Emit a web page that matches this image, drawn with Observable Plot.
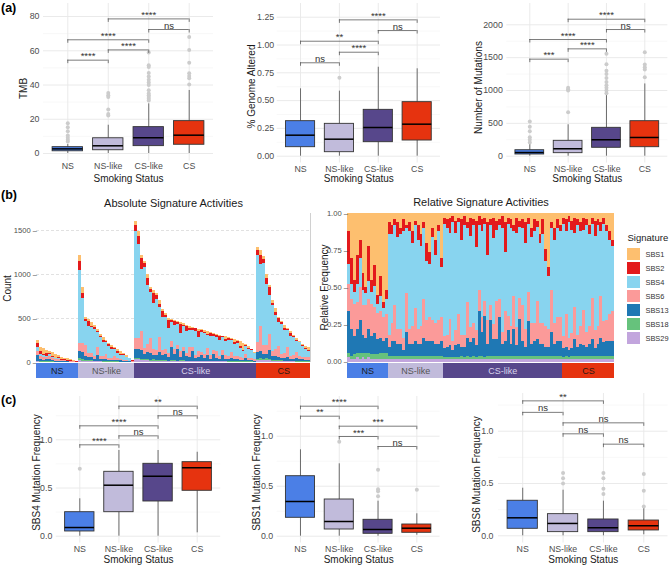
<!DOCTYPE html>
<html><head><meta charset="utf-8">
<script src="https://cdn.jsdelivr.net/npm/d3@7"></script>
<script src="https://cdn.jsdelivr.net/npm/@observablehq/plot@0.6"></script>
<style>
html,body{margin:0;padding:0;background:#fff;}
#fig{position:relative;width:669px;height:566px;overflow:hidden;background:#fff;font-family:"Liberation Sans",Arial,Helvetica,sans-serif;}
#fig > svg{position:absolute;left:0;top:0;}
.tag{position:absolute;font-weight:bold;font-size:12.5px;color:#000;line-height:1;}
</style></head><body><div id="fig"></div>
<script>
const W = 669, H = 566;
const groups = ["NS", "NS-like", "CS-like", "CS"];
const groupColors = ["#4b7fe6", "#c1bbdb", "#57478b", "#e6330f"];
const stripTextColors = ["#1c1c1c", "#555555", "#d9d3ec", "#2a1a14"];

// ---- (a) TMB
const tmbQ1 = [1.3, 1.9, 4.3, 5.1];
const tmbMed = [2.7, 4.5, 9.2, 10.7];
const tmbQ3 = [3.7, 8.9, 15.4, 18.9];
const tmbLo = [0, 0, 0, 0];
const tmbHi = [5.3, 16.5, 29, 36.8];
const tmbOut = [[7, 8, 9.2, 10.5, 13, 15.4, 17.7], [22.2, 23, 25.7, 33, 34, 35.4], [31, 32, 33, 34, 35, 37, 40, 41.5, 43, 45, 47, 50.5, 51.5, 59], [40.3, 44, 45.3, 46.9, 53, 60.5, 68]];
const tmbBrackets = [["NS", "NS-like", 54.5, "****"], ["NS-like", "CS-like", 60.5, "****"], ["NS", "CS-like", 66.4, "****"], ["CS-like", "CS", 72.4, "ns"], ["NS-like", "CS", 78.6, "****"]];
const tmbTicks = [0, 20, 40, 60, 80];
const tmbMinor = [10, 30, 50, 70];

// ---- (a) % Genome Altered
const gaQ1 = [0.081, 0.036, 0.126, 0.141];
const gaMed = [0.189, 0.153, 0.258, 0.288];
const gaQ3 = [0.315, 0.291, 0.417, 0.486];
const gaLo = [0, 0, 0, 0];
const gaHi = [0.606, 0.585, 0.80, 0.786];
const gaOut = [[], [0.705], [], []];
const gaBrackets = [["NS", "NS-like", 0.84, "ns"], ["NS-like", "CS-like", 0.935, "****"], ["NS", "CS-like", 1.034, "**"], ["CS-like", "CS", 1.13, "ns"], ["NS-like", "CS", 1.226, "****"]];
const gaTicks = [0, 0.25, 0.5, 0.75, 1, 1.25];
const gaMinor = [0.125, 0.375, 0.625, 0.875, 1.125];

// ---- (a) Number of Mutations
const nmQ1 = [26, 46, 128, 137];
const nmMed = [56, 113, 250, 285];
const nmQ3 = [91, 234, 432, 533];
const nmLo = [0, 0, 0, 0];
const nmHi = [178, 478, 940, 1100];
const nmOut = [[210, 250, 290, 380, 450, 530], [670, 1000, 1020, 1040], [960, 1000, 1040, 1080, 1130, 1190, 1250, 1300, 1400, 1560], [1200, 1320, 1355, 1396, 1583]];
const nmBrackets = [["NS", "NS-like", 1477, "***"], ["NS-like", "CS-like", 1634, "****"], ["NS", "CS-like", 1776, "****"], ["CS-like", "CS", 1928, "ns"], ["NS-like", "CS", 2085, "****"]];
const nmTicks = [0, 500, 1000, 1500, 2000];
const nmMinor = [250, 750, 1250, 1750];

// ---- (c) SBS4
const s4Q1 = [0.049, 0.249, 0.36, 0.471];
const s4Med = [0.09, 0.529, 0.622, 0.71];
const s4Q3 = [0.249, 0.668, 0.751, 0.768];
const s4Lo = [0, 0, 0, 0.035];
const s4Hi = [0.388, 0.889, 0.889, 0.871];
const s4Out = [[0.70], [], [], []];
const s4Brackets = [["NS", "NS-like", 0.948, "****"], ["NS-like", "CS-like", 1.041, "ns"], ["NS", "CS-like", 1.145, "****"], ["CS-like", "CS", 1.249, "ns"], ["NS-like", "CS", 1.349, "**"]];

// ---- (c) SBS1
const s1Q1 = [0.184, 0.067, 0.024, 0.034];
const s1Med = [0.347, 0.147, 0.067, 0.08];
const s1Q3 = [0.60, 0.367, 0.164, 0.117];
const s1Lo = [0, 0, 0, 0.01];
const s1Hi = [0.864, 0.724, 0.35, 0.224];
const s1Out = [[], [0.944], [0.40, 0.45, 0.47, 0.665], [0.464]];
const s1Brackets = [["NS", "CS-like", 1.30, "****"], ["NS", "NS-like", 1.20, "**"], ["NS-like", "CS", 1.10, "***"], ["NS-like", "CS-like", 0.997, "***"], ["CS-like", "CS", 0.897, "ns"]];

// ---- (c) SBS6
const s6Q1 = [0.067, 0.035, 0.035, 0.051];
const s6Med = [0.172, 0.118, 0.077, 0.096];
const s6Q3 = [0.335, 0.207, 0.156, 0.146];
const s6Lo = [0, 0, 0, 0.01];
const s6Hi = [0.455, 0.436, 0.331, 0.264];
const s6Out = [[], [0.50, 0.55, 0.60], [0.40, 0.45, 0.55, 0.60], [0.28, 0.43, 0.59]];
const s6Brackets = [["NS", "CS-like", 1.29, "**"], ["NS", "NS-like", 1.18, "ns"], ["NS-like", "CS", 1.08, "ns"], ["NS-like", "CS-like", 0.975, "ns"], ["CS-like", "CS", 0.876, "ns"]];
const freqTicks = [0, 0.5, 1.0];
const freqMinor = [0.25, 0.75, 1.25];

// ---- (b) signatures
const signatures = ["SBS1", "SBS2", "SBS4", "SBS6", "SBS13", "SBS18", "SBS29"];
const sigColors = ["#fdbf6f", "#e31a1c", "#88d4ef", "#fb9a99", "#1f78b4", "#66c27c", "#c2a5dd"];
const stackOrder = signatures.slice().reverse();
const absTicks = [0, 500, 1000, 1500];
const relTicks = [0, 0.25, 0.5, 0.75, 1];

const nsTotals = [250, 175, 160, 140, 125, 110, 90, 75, 60, 50, 40, 30, 20, 12];
const nsLikeTotals = [1220, 850, 510, 490, 460, 420, 380, 320, 280, 250, 220, 195, 170, 150, 125, 100, 75, 50, 25];
const csLikeTotals = [1600, 1490, 1220, 1150, 1000, 850, 820, 780, 700, 600, 560, 500, 490, 480, 470, 455, 440, 425, 410, 400, 390, 380, 370, 360, 350, 340, 330, 320, 310, 300, 290, 280, 270, 260, 250, 235, 220, 200, 180, 150, 110];
const csTotals = [1310, 1270, 1200, 1000, 875, 700, 610, 515, 470, 420, 385, 350, 310, 270, 240, 210, 185, 165];

// composition per sample: SBS1, SBS2, SBS4, SBS6, SBS13, SBS18, SBS29 (%)
const nsComp = [
[12,22,14,18,28,3,3],[30,18,10,20,18,2,2],[45,8,8,22,12,3,2],[28,20,12,18,16,3,3],[18,12,20,22,22,4,2],
[40,12,10,20,12,3,3],[50,4,8,22,10,4,2],[22,24,12,20,16,3,3],[45,8,8,22,12,3,2],[35,14,14,18,14,3,2],
[55,6,6,18,10,3,2],[42,14,10,18,10,4,2],[60,4,6,16,8,4,2],[52,6,10,16,10,4,2]];
const nsLikeComp = [
[6,8,68,8,6,2,2],[8,6,60,12,10,2,2],[4,4,54,24,10,2,2],[6,10,62,10,8,2,2],[10,4,64,10,8,2,2],
[4,8,72,8,4,2,2],[8,2,44,26,16,2,2],[6,6,66,10,8,2,2],[12,8,56,12,8,2,2],[5,3,56,22,10,2,2],
[8,10,60,10,8,2,2],[14,8,54,12,8,2,2],[6,4,48,26,12,2,2],[20,12,40,14,10,2,2],[26,8,36,16,10,2,2],
[10,6,56,14,10,2,2],[18,10,46,14,8,2,2],[8,4,60,16,8,2,2],[30,6,34,16,10,2,2]];
const csLikeComp = [
[3,4,76,8,6,1,2],[4,6,72,8,7,1,2],[3,10,58,18,8,1,2],[2,4,80,6,5,1,2],[5,8,66,10,8,1,2],
[3,3,62,20,9,1,2],[4,14,64,8,6,2,2],[2,6,74,8,7,1,2],[6,4,50,24,12,2,2],[3,12,62,10,10,1,2],
[4,4,66,10,12,2,2],[5,18,56,10,8,1,2],[2,6,44,14,30,2,2],[4,8,58,10,16,2,2],[3,4,52,10,28,1,2],
[6,22,44,16,8,2,2],[4,4,54,10,24,2,2],[3,14,58,10,11,2,2],[5,6,48,26,11,2,2],[4,4,50,12,26,2,2],
[2,8,70,8,8,2,2],[6,20,40,20,10,2,2],[3,4,62,10,17,2,2],[4,6,66,12,8,2,2],[8,4,44,22,18,2,2],
[3,10,64,12,7,2,2],[5,4,48,14,25,2,2],[4,6,52,24,10,2,2],[6,14,58,12,6,2,2],[3,4,46,20,23,2,2],
[10,6,58,14,8,2,2],[4,8,62,12,10,2,2],[5,4,50,26,11,2,2],[14,6,54,14,8,2,2],[4,10,60,14,8,2,2],
[24,8,44,14,6,2,2],[36,6,36,12,6,2,2],[6,4,42,28,16,2,2],[10,8,56,14,8,2,2],[4,6,60,16,10,2,2],
[8,4,58,16,10,2,2]];
const csComp = [
[3,4,76,8,6,1,2],[4,8,56,22,6,2,2],[2,4,78,8,5,1,2],[5,6,70,10,5,2,2],[3,10,50,22,11,2,2],
[4,4,74,8,6,2,2],[6,6,64,12,8,2,2],[3,8,54,24,7,2,2],[4,4,72,10,6,2,2],[8,6,62,12,8,2,2],
[3,4,50,28,11,2,2],[5,10,64,12,5,2,2],[4,4,68,12,8,2,2],[6,6,44,28,12,2,2],[3,4,66,14,9,2,2],
[8,4,60,14,10,2,2],[12,6,50,18,10,2,2],[18,4,44,20,10,2,2]];

// ================= helpers =================
const FONT = '"Liberation Sans", Arial, Helvetica, sans-serif';
function baseStyle(size) {
  return {background: "transparent", fontFamily: FONT, fontSize: size + "px", color: "#4d4d4d", overflow: "visible"};
}
function frame(l, r, t, b) {
  return {width: W, height: H, marginLeft: l, marginRight: W - r, marginTop: t, marginBottom: H - b};
}
const fig = document.getElementById("fig");

function boxPanel(d, L) {
  const yLo = (L.y0 - L.bottom) / L.ppu, yHi = (L.y0 - L.top) / L.ppu;
  const pos = groups.map((g, i) => i + 1);
  const boxes = groups.map((g, i) => ({pos: i + 1, group: g, q1: d.q1[i], med: d.med[i], q3: d.q3[i], lo: d.lo[i], hi: d.hi[i]}));
  const outs = d.out.flatMap((vals, i) => vals.map(v => ({pos: i + 1, v})));
  const tick = 3.5 / L.ppu;
  const br = d.br.map(([a, b, y, label]) => {
    const p1 = groups.indexOf(a) + 1, p2 = groups.indexOf(b) + 1;
    return {p1, p2, pm: (p1 + p2) / 2, y, y0: y - tick, label};
  });
  const half = 0.375;
  return Plot.plot({
    ...frame(L.left, L.right, L.top, L.bottom),
    style: baseStyle(L.tickFont),
    x: {type: "linear", axis: "bottom", domain: [0.4, 4.6], ticks: pos, tickFormat: p => groups[p - 1], tickSize: 0, tickPadding: L.xPad, label: null},
    y: {axis: "left", domain: [yLo, yHi], ticks: d.ticks, tickFormat: d.fmt, tickSize: 0, tickPadding: L.yPad, label: null},
    color: {domain: groups, range: groupColors},
    marks: [
      Plot.ruleY(d.minor, {stroke: "#f3f3f3", strokeWidth: 0.6}),
      Plot.ruleY(d.ticks, {stroke: "#e8e8e8", strokeWidth: 0.9}),
      Plot.ruleX(pos, {stroke: "#e8e8e8", strokeWidth: 0.9}),
      Plot.ruleX(boxes, {x: "pos", y1: "lo", y2: "q1", stroke: "#4a4a4a", strokeWidth: 0.8}),
      Plot.ruleX(boxes, {x: "pos", y1: "q3", y2: "hi", stroke: "#4a4a4a", strokeWidth: 0.8}),
      Plot.rectY(boxes, {x1: b => b.pos - half, x2: b => b.pos + half, y1: "q1", y2: "q3", fill: "group", stroke: "#333", strokeWidth: 0.9}),
      Plot.ruleY(boxes, {x1: b => b.pos - half, x2: b => b.pos + half, y: "med", stroke: "#000", strokeWidth: 1.5}),
      Plot.dot(outs, {x: "pos", y: "v", r: 2, fill: "#cccccc", stroke: null}),
      Plot.ruleY(br, {x1: "p1", x2: "p2", y: "y", stroke: "#5a5a5a", strokeWidth: 0.8}),
      Plot.ruleX(br, {x: "p1", y1: "y0", y2: "y", stroke: "#5a5a5a", strokeWidth: 0.8}),
      Plot.ruleX(br, {x: "p2", y1: "y0", y2: "y", stroke: "#5a5a5a", strokeWidth: 0.8}),
      Plot.text(br, {x: "pm", y: "y", text: "label", lineAnchor: "bottom", dy: -1, fontSize: 9.5, fill: "#333"}),
      Plot.text([d.title], {frameAnchor: "left", textAnchor: "middle", lineAnchor: "middle", rotate: -90, dx: L.tx - L.left, dy: L.ty - (L.top + L.bottom) / 2, fontSize: 10, fill: "#1a1a1a"}),
      Plot.text(["Smoking Status"], {frameAnchor: "bottom", textAnchor: "middle", lineAnchor: "middle", dy: L.sy - L.bottom, fontSize: 10, fill: "#1a1a1a"})
    ]
  });
}

// ================= panel (a) =================
fig.appendChild(boxPanel(
  {q1: tmbQ1, med: tmbMed, q3: tmbQ3, lo: tmbLo, hi: tmbHi, out: tmbOut, br: tmbBrackets, ticks: tmbTicks, minor: tmbMinor, fmt: "d", title: "TMB"},
  {left: 43, right: 213, top: 3, bottom: 160.5, y0: 153, ppu: 1.7125, tickFont: 8.8, xPad: 2, yPad: 4, tx: 23, ty: 88, sy: 178}));
fig.appendChild(boxPanel(
  {q1: gaQ1, med: gaMed, q3: gaQ3, lo: gaLo, hi: gaHi, out: gaOut, br: gaBrackets, ticks: gaTicks, minor: gaMinor, fmt: ".2f", title: "% Genome Altered"},
  {left: 276.7, right: 440, top: 3, bottom: 162.5, y0: 155.7, ppu: 111.2, tickFont: 8.8, xPad: 2.5, yPad: 3, tx: 251, ty: 86, sy: 178}));
fig.appendChild(boxPanel(
  {q1: nmQ1, med: nmMed, q3: nmQ3, lo: nmLo, hi: nmHi, out: nmOut, br: nmBrackets, ticks: nmTicks, minor: nmMinor, fmt: "d", title: "Number of Mutations"},
  {left: 506.3, right: 667.3, top: 3, bottom: 162.5, y0: 155.7, ppu: 0.0657, tickFont: 8.8, xPad: 2.5, yPad: 4, tx: 478, ty: 87, sy: 178}));

// ================= panel (c) =================
fig.appendChild(boxPanel(
  {q1: s4Q1, med: s4Med, q3: s4Q3, lo: s4Lo, hi: s4Hi, out: s4Out, br: s4Brackets, ticks: freqTicks, minor: freqMinor, fmt: ".1f", title: "SBS4 Mutation Frequency"},
  {left: 55.8, right: 220.2, top: 396, bottom: 542.5, y0: 535.7, ppu: 96.4, tickFont: 8.8, xPad: 2.5, yPad: 4, tx: 36, ty: 472, sy: 559}));
fig.appendChild(boxPanel(
  {q1: s1Q1, med: s1Med, q3: s1Q3, lo: s1Lo, hi: s1Hi, out: s1Out, br: s1Brackets, ticks: freqTicks, minor: freqMinor, fmt: ".1f", title: "SBS1 Mutation Frequency"},
  {left: 276.7, right: 439.6, top: 396, bottom: 542.5, y0: 535.7, ppu: 100, tickFont: 8.8, xPad: 2.5, yPad: 4, tx: 256, ty: 472, sy: 559}));
fig.appendChild(boxPanel(
  {q1: s6Q1, med: s6Med, q3: s6Q3, lo: s6Lo, hi: s6Hi, out: s6Out, br: s6Brackets, ticks: freqTicks, minor: freqMinor, fmt: ".1f", title: "SBS6 Mutation Frequency"},
  {left: 498, right: 667.5, top: 393, bottom: 542.5, y0: 535.3, ppu: 104.6, tickFont: 8.8, xPad: 2.5, yPad: 5, tx: 476, ty: 474, sy: 559}));

// ================= panel (b) =================
const samples = [];
[[nsTotals, nsComp, "NS"], [nsLikeTotals, nsLikeComp, "NS-like"], [csLikeTotals, csLikeComp, "CS-like"], [csTotals, csComp, "CS"]]
  .forEach(([tot, comp, g]) => tot.forEach((t, k) => samples.push({i: samples.length, group: g, total: t, comp: comp[k]})));
const N = samples.length;
const sigData = samples.flatMap(s => {
  const sum = d3.sum(s.comp);
  return stackOrder.map(sig => ({i: s.i, sig, value: s.total * s.comp[signatures.indexOf(sig)] / sum}));
});
const spans = groups.map((g, gi) => {
  const idx = samples.filter(s => s.group === g).map(s => s.i);
  return {group: g, gi, start: d3.min(idx), end: d3.max(idx) + 1};
});

function stackedPanel(L, relative) {
  const ticks = relative ? relTicks : absTicks;
  const fmt = relative ? d3.format(".2f") : d3.format("d");
  return Plot.plot({
    ...frame(L.left, L.right, L.top, L.bottom),
    style: baseStyle(7.6),
    x: {domain: [0, N], axis: null},
    y: {axis: null, domain: relative ? [0, 1] : [0, 1693]},
    color: {domain: signatures, range: sigColors},
    marks: [
      relative ? null : Plot.ruleY([500, 1000, 1500], {stroke: "#d2d2d2", strokeWidth: 0.7, strokeDasharray: "3,2"}),
      Plot.rectY(sigData, {x1: "i", x2: s => s.i + 1, y: "value", fill: "sig", order: stackOrder, offset: relative ? "normalize" : null, shapeRendering: "crispEdges"}),
      relative ? null : Plot.ruleX([N], {stroke: "#c4c4c4", strokeWidth: 0.8}),
      Plot.text(ticks, {y: t => t, text: t => fmt(t) + " \u2013", frameAnchor: "left", textAnchor: "end", lineAnchor: "middle", dx: 0.5, fontSize: 7.6, fill: "#4d4d4d"}),
      Plot.text([L.title], {frameAnchor: "top", textAnchor: "middle", lineAnchor: "middle", dy: L.titleY - L.top, fontSize: 11, fill: "#1a1a1a"}),
      Plot.text([L.ylabel], {frameAnchor: "left", textAnchor: "middle", lineAnchor: "middle", rotate: -90, dx: L.tx - L.left, dy: L.ty - (L.top + L.bottom) / 2, fontSize: 10, fill: "#1a1a1a"})
    ]
  });
}
function stripPanel(L) {
  return Plot.plot({
    ...frame(L.left, L.right, 363, 378),
    style: baseStyle(9),
    x: {domain: [0, N], axis: null},
    color: {domain: groups, range: groupColors},
    marks: [
      Plot.rect(spans, {x1: "start", x2: "end", fill: "group", shapeRendering: "crispEdges"}),
      ...spans.map(s => Plot.text([s], {x: d => (d.start + d.end) / 2, text: "group", fill: stripTextColors[s.gi], fontSize: 9}))
    ]
  });
}
fig.appendChild(stackedPanel({left: 36, right: 310, top: 213, bottom: 362, title: "Absolute Signature Activities", titleY: 203, ylabel: "Count", tx: 7, ty: 288}, false));
fig.appendChild(stackedPanel({left: 347, right: 614, top: 213.3, bottom: 361.5, title: "Relative Signature Activities", titleY: 202, ylabel: "Relative Frequency", tx: 324, ty: 287}, true));
fig.appendChild(stripPanel({left: 36, right: 310}));
fig.appendChild(stripPanel({left: 347, right: 614}));

// legend
fig.appendChild(Plot.plot({
  ...frame(627, 640, 245, 348),
  style: baseStyle(7.5),
  y: {type: "band", domain: signatures, paddingInner: 0.14, paddingOuter: 0.07, axis: null},
  color: {domain: signatures, range: sigColors},
  marks: [
    Plot.cell(signatures, {y: s => s, fill: s => s}),
    Plot.text(signatures, {y: s => s, text: s => s, frameAnchor: "right", textAnchor: "start", lineAnchor: "middle", dx: 5, fontSize: 7.4, fill: "#333"}),
    Plot.text(["Signature"], {frameAnchor: "top-left", textAnchor: "start", lineAnchor: "middle", dy: -8, fontSize: 9.5, fill: "#1a1a1a"})
  ]
}));

// panel tags
[["(a)", 1, 2], ["(b)", 1, 189], ["(c)", 1, 394]].forEach(([t, x, y]) => {
  const el = document.createElement("div");
  el.className = "tag"; el.textContent = t;
  el.style.left = x + "px"; el.style.top = y + "px";
  fig.appendChild(el);
});
</script></body></html>
